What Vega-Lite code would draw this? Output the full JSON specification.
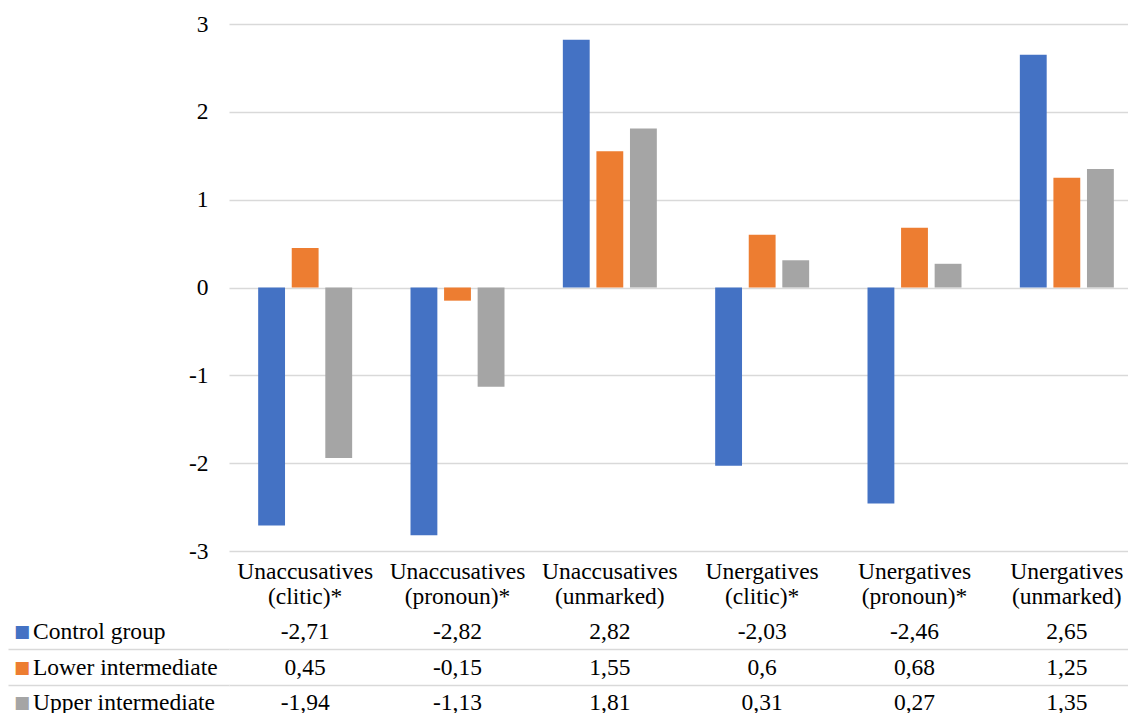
{
  "$schema": "https://vega.github.io/schema/vega-lite/v6.json",
  "padding": {"left": 7, "top": 12, "right": 0, "bottom": 0},
  "background": "white",
  "spacing": 6,
  "config": {
    "locale": {"number": {"decimal": ",", "thousands": ".", "grouping": [3], "currency": ["", ""], "minus": "-"}},
    "view": {"stroke": null},
    "font": "Liberation Serif",
    "axis": {"labelFont": "Liberation Serif", "labelFontSize": 23.5, "labelColor": "#000000"}
  },
  "datasets": {
    "scores": [
      {"category": "Unaccusatives (clitic)*", "series": "Control group", "value": -2.71},
      {"category": "Unaccusatives (clitic)*", "series": "Lower intermediate", "value": 0.45},
      {"category": "Unaccusatives (clitic)*", "series": "Upper intermediate", "value": -1.94},
      {"category": "Unaccusatives (pronoun)*", "series": "Control group", "value": -2.82},
      {"category": "Unaccusatives (pronoun)*", "series": "Lower intermediate", "value": -0.15},
      {"category": "Unaccusatives (pronoun)*", "series": "Upper intermediate", "value": -1.13},
      {"category": "Unaccusatives (unmarked)", "series": "Control group", "value": 2.82},
      {"category": "Unaccusatives (unmarked)", "series": "Lower intermediate", "value": 1.55},
      {"category": "Unaccusatives (unmarked)", "series": "Upper intermediate", "value": 1.81},
      {"category": "Unergatives (clitic)*", "series": "Control group", "value": -2.03},
      {"category": "Unergatives (clitic)*", "series": "Lower intermediate", "value": 0.6},
      {"category": "Unergatives (clitic)*", "series": "Upper intermediate", "value": 0.31},
      {"category": "Unergatives (pronoun)*", "series": "Control group", "value": -2.46},
      {"category": "Unergatives (pronoun)*", "series": "Lower intermediate", "value": 0.68},
      {"category": "Unergatives (pronoun)*", "series": "Upper intermediate", "value": 0.27},
      {"category": "Unergatives (unmarked)", "series": "Control group", "value": 2.65},
      {"category": "Unergatives (unmarked)", "series": "Lower intermediate", "value": 1.25},
      {"category": "Unergatives (unmarked)", "series": "Upper intermediate", "value": 1.35}
    ],
    "groups": [
      {"series": "Control group"},
      {"series": "Lower intermediate"},
      {"series": "Upper intermediate"}
    ]
  },
  "vconcat": [
    {
      "width": 914,
      "height": 527,
      "data": {"name": "scores"},
      "mark": {"type": "bar"},
      "encoding": {
        "x": {
          "field": "category", "type": "nominal", "sort": null,
          "scale": {"type": "band", "paddingInner": 0.383, "paddingOuter": 0.1915},
          "axis": {"title": null, "orient": "bottom", "domain": false, "ticks": false, "labelAngle": 0,
                   "labelPadding": 8, "labelExpr": "split(datum.label, ' ')", "labelLineHeight": 25,
                   "labelBaseline": "top", "labelOverlap": false, "labelLimit": 0}
        },
        "xOffset": {"field": "series", "type": "nominal", "sort": null,
                    "scale": {"paddingInner": 0.2, "paddingOuter": 0}},
        "y": {
          "field": "value", "type": "quantitative",
          "scale": {"domain": [-3, 3], "nice": false},
          "axis": {"title": null, "values": [-3, -2, -1, 0, 1, 2, 3], "domain": false, "ticks": false,
                   "labelPadding": 21, "gridColor": "#d9d9d9", "gridWidth": 1.5}
        },
        "color": {
          "field": "series", "type": "nominal", "sort": null,
          "scale": {"domain": ["Control group", "Lower intermediate", "Upper intermediate"],
                    "range": ["#4472C4", "#ED7D31", "#A5A5A5"]},
          "legend": null
        }
      }
    },
    {
      "width": 914,
      "height": 107,
      "layer": [
        {
          "data": {"name": "scores"},
          "mark": {"type": "text", "font": "Liberation Serif", "fontSize": 23.5, "color": "#000000"},
          "encoding": {
            "x": {"field": "category", "type": "nominal", "sort": null,
                  "scale": {"type": "band", "paddingInner": 0, "paddingOuter": 0}, "axis": null},
            "y": {"field": "series", "type": "nominal", "sort": null,
                  "scale": {"type": "band", "paddingInner": 0, "paddingOuter": 0},
                  "axis": {"title": null, "labels": false, "domain": false, "ticks": true, "tickSize": 221,
                           "tickColor": "#d9d9d9", "tickWidth": 1.5, "bandPosition": 1,
                           "grid": true, "gridColor": "#d9d9d9", "gridWidth": 1.5}},
            "text": {"field": "value", "type": "quantitative", "format": ".3~g"}
          }
        },
        {
          "data": {"name": "groups"},
          "mark": {"type": "text", "text": "■", "font": "DejaVu Sans", "fontSize": 17, "dx": -207, "align": "center"},
          "encoding": {
            "x": {"datum": "Unaccusatives (clitic)*", "type": "nominal", "bandPosition": 0},
            "y": {"field": "series", "type": "nominal", "sort": null},
            "color": {"field": "series", "type": "nominal", "sort": null, "legend": null}
          }
        },
        {
          "data": {"name": "groups"},
          "mark": {"type": "text", "font": "Liberation Serif", "fontSize": 23.5, "dx": -196, "align": "left", "color": "#000000"},
          "encoding": {
            "x": {"datum": "Unaccusatives (clitic)*", "type": "nominal", "bandPosition": 0},
            "y": {"field": "series", "type": "nominal", "sort": null},
            "text": {"field": "series", "type": "nominal"}
          }
        }
      ]
    }
  ]
}
